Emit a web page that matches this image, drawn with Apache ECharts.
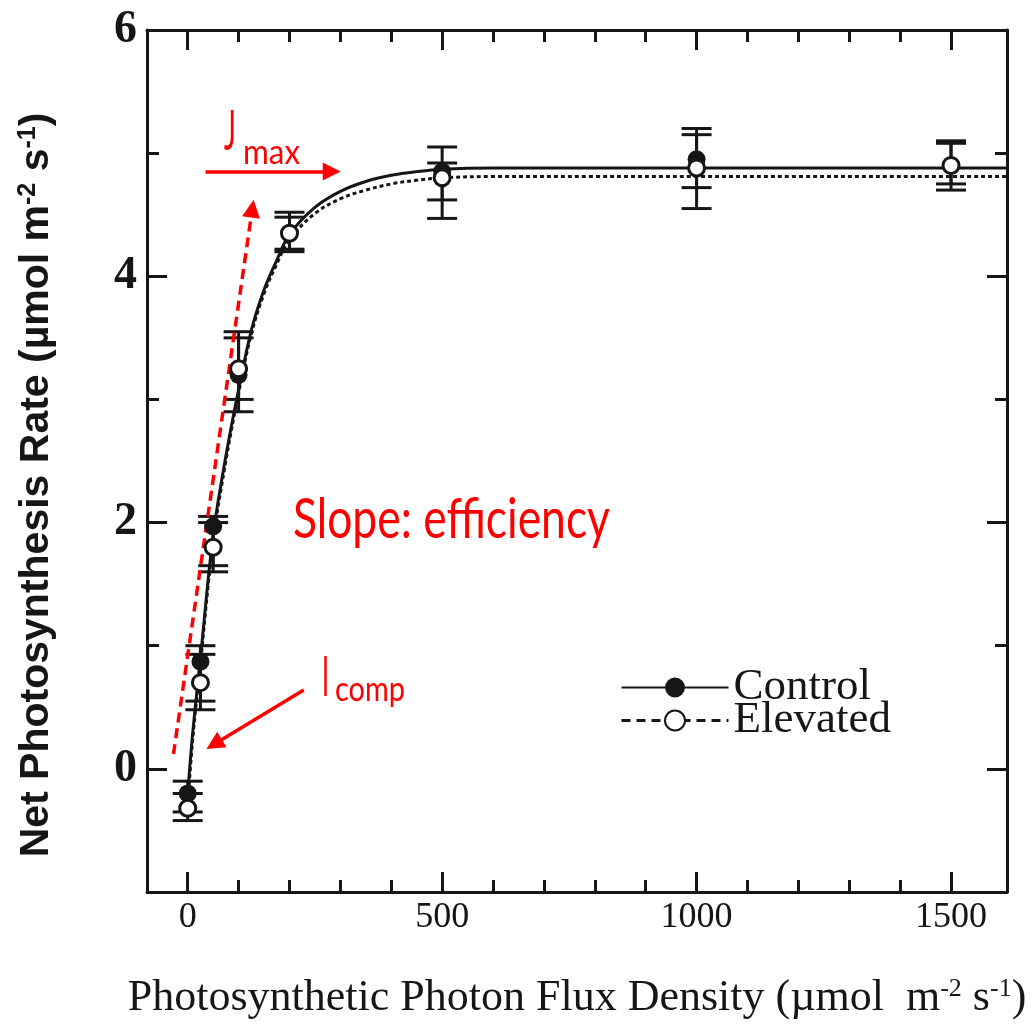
<!DOCTYPE html>
<html><head><meta charset="utf-8">
<script src="https://cdn.jsdelivr.net/npm/echarts@6/dist/echarts.min.js"></script>
<style>html,body{margin:0;padding:0;background:#fff}#c{width:1034px;height:1025px}</style>
</head><body><div id="c"></div>
<script>
// ---- data ----
const ppfd = [0, 25, 50, 100, 200, 500, 1000, 1500];
const controlMean = [-0.2, 0.87, 1.97, 3.2, 4.35, 4.85, 4.95, 4.9];
const controlLow  = [-0.35, 0.55, 1.65, 2.9, 4.2, 4.62, 4.72, 4.75];
const controlHigh = [-0.1, 1.0, 2.05, 3.55, 4.52, 5.05, 5.2, 5.08];
const elevatedMean = [-0.32, 0.7, 1.8, 3.25, 4.35, 4.8, 4.88, 4.9];
const elevatedLow  = [-0.42, 0.48, 1.6, 3.0, 4.22, 4.47, 4.55, 4.7];
const elevatedHigh = [-0.2, 0.93, 2.0, 3.5, 4.48, 4.92, 5.15, 5.1];
const curveX = [0, 10, 25, 50, 75, 100, 125, 150, 175, 200, 250, 300, 350, 400, 450, 500, 600, 800, 1000, 1200, 1400, 1610];
const controlCurve  = [-0.2, 0.3, 0.9, 1.9, 2.54, 3.08, 3.56, 3.89, 4.13, 4.34, 4.56, 4.69, 4.77, 4.82, 4.85, 4.87, 4.88, 4.88, 4.88, 4.88, 4.88, 4.88];
const elevatedCurve = [-0.3, 0.25, 0.85, 1.85, 2.5, 3.05, 3.53, 3.86, 4.1, 4.3, 4.51, 4.63, 4.7, 4.75, 4.78, 4.8, 4.81, 4.81, 4.81, 4.81, 4.81, 4.81];
const xTickLabels = [0, 500, 1000, 1500];
const xMinorTicks = [100, 200, 300, 400, 600, 700, 800, 900, 1100, 1200, 1300, 1400];
const yTickLabels = [0, 2, 4, 6];
const yMinorTicks = [1, 3, 5];
// annotation geometry (data coordinates)
const zeroLine = [[-80, -0.02], [1625, -0.02]];
const slopeArrow = [[-28, 0.12], [127, 4.55]];
const jmaxArrow = [[35, 4.85], [283, 4.85]];
const icompArrow = [[228, 0.64], [52, 0.2]];

const INK = '#161616';
const RED = '#ff0000';
const X_MIN = -80, X_MAX = 1610, Y_MIN = -1, Y_MAX = 6;

const chart = echarts.init(document.getElementById('c'), null, {renderer: 'canvas'});

function xAxisDef(pos, ticks, len, showLine, showLabel) {
  return {
    type: 'value', position: pos, min: X_MIN, max: X_MAX,
    axisLine: {show: showLine, onZero: false, lineStyle: {color: INK, width: 3}},
    axisTick: {show: true, inside: true, length: len, customValues: ticks, lineStyle: {color: INK, width: 3}},
    axisLabel: {show: showLabel, customValues: ticks, formatter: v => String(v), color: INK,
      fontFamily: 'Liberation Serif', fontSize: 36, margin: 8},
    splitLine: {show: false}
  };
}
function yAxisDef(pos, ticks, len, showLine, showLabel) {
  return {
    type: 'value', position: pos, min: Y_MIN, max: Y_MAX,
    axisLine: {show: showLine, onZero: false, lineStyle: {color: INK, width: 3}},
    axisTick: {show: true, inside: true, length: len, customValues: ticks, lineStyle: {color: INK, width: 3}},
    axisLabel: {show: showLabel, customValues: ticks, formatter: v => String(v), color: INK,
      fontFamily: 'Liberation Serif', fontWeight: 'bold', fontSize: 46, margin: 10},
    splitLine: {show: false}
  };
}

const xMain = xAxisDef('bottom', xTickLabels, 20, true, true);
xMain.name = 'Photosynthetic Photon Flux Density (\u00b5mol  m{s|-2} s{s|-1})';
xMain.nameLocation = 'middle';
xMain.nameGap = 84;
xMain.nameTextStyle = {color: INK, fontFamily: 'Liberation Serif', fontSize: 44,
  rich: {s: {fontFamily: 'Liberation Serif', fontSize: 26, verticalAlign: 'top', color: INK, padding: [0, 0, 16, 0]}}};

const yMain = yAxisDef('left', yTickLabels, 20, true, true);
yMain.name = 'Net Photosynthesis Rate (\u00b5mol m{s|-2} s{s|-1})';
yMain.nameLocation = 'middle';
yMain.nameRotate = 90;
yMain.nameGap = 90;
yMain.nameTextStyle = {color: INK, fontFamily: 'Liberation Sans', fontWeight: 'bold', fontSize: 41, padding: [0, 48, 0, 0],
  rich: {s: {fontFamily: 'Liberation Sans', fontWeight: 'bold', fontSize: 25, color: INK, padding: [0, 0, 16, 0]}}};

function errorBars(low, high) {
  return ppfd.map((x, i) => [x, low[i], high[i]]);
}
function renderErr(params, api) {
  const x = api.value(0), lo = api.value(1), hi = api.value(2);
  const p1 = api.coord([x, lo]), p2 = api.coord([x, hi]);
  const hw = 15;
  const style = {stroke: INK, lineWidth: 3};
  return {type: 'group', children: [
    {type: 'line', shape: {x1: p1[0], y1: p1[1], x2: p2[0], y2: p2[1]}, style},
    {type: 'line', shape: {x1: p1[0] - hw, y1: p1[1], x2: p1[0] + hw, y2: p1[1]}, style},
    {type: 'line', shape: {x1: p2[0] - hw, y1: p2[1], x2: p2[0] + hw, y2: p2[1]}, style}
  ]};
}

const option = {
  animation: false,
  backgroundColor: '#fff',
  grid: {left: 147, right: 27, top: 30, bottom: 133, containLabel: false},
  xAxis: [
    xMain,
    xAxisDef('bottom', xMinorTicks, 12, false, false),
    xAxisDef('top', xTickLabels, 20, true, false),
    xAxisDef('top', xMinorTicks, 12, false, false)
  ],
  yAxis: [
    yMain,
    yAxisDef('left', yMinorTicks, 12, false, false),
    yAxisDef('right', yTickLabels, 20, true, false),
    yAxisDef('right', yMinorTicks, 12, false, false)
  ],
  legend: {
    orient: 'vertical', left: 615, top: 660,
    itemWidth: 107, itemHeight: 25, itemGap: -12,
    textStyle: {color: INK, fontFamily: 'Liberation Serif', fontSize: 45, lineHeight: 30},
    data: [
      {name: 'Control'},
      {name: 'Elevated', lineStyle: {type: [9, 6], width: 3}}
    ]
  },
  series: [
    {
      name: 'Control', type: 'line', smooth: 0.35, symbol: 'circle', showSymbol: false, z: 3,
      itemStyle: {color: INK}, lineStyle: {color: INK, width: 3},
      data: curveX.map((x, i) => [x, controlCurve[i]])
    },
    {
      name: 'Elevated', type: 'line', smooth: 0.35, symbol: 'emptyCircle', showSymbol: false, z: 3,
      itemStyle: {color: INK}, lineStyle: {color: INK, width: 3, type: [4, 3]},
      data: curveX.map((x, i) => [x, elevatedCurve[i]])
    },
    {
      name: 'Control error', type: 'custom', renderItem: renderErr, z: 4, clip: false,
      encode: {x: 0, y: [1, 2]}, data: errorBars(controlLow, controlHigh)
    },
    {
      name: 'Elevated error', type: 'custom', renderItem: renderErr, z: 4, clip: false,
      encode: {x: 0, y: [1, 2]}, data: errorBars(elevatedLow, elevatedHigh)
    },
    {
      name: 'Control points', type: 'scatter', symbol: 'circle', symbolSize: 18, z: 5,
      itemStyle: {color: INK, opacity: 1},
      data: ppfd.map((x, i) => [x, controlMean[i]])
    },
    {
      name: 'Elevated points', type: 'scatter', symbol: 'circle', symbolSize: 16, z: 6,
      itemStyle: {color: '#fff', borderColor: INK, borderWidth: 3, opacity: 1},
      data: ppfd.map((x, i) => [x, elevatedMean[i]])
    },
    {
      name: 'annotations', type: 'line', data: [], clip: false, silent: true, z: 8,
      markLine: {
        silent: true, animation: false, symbol: ['none', 'triangle'], symbolSize: 18,
        label: {show: false},
        lineStyle: {color: RED, width: 3.5, type: 'solid'},
        emphasis: {disabled: true},
        data: [
          [{coord: zeroLine[0], symbol: 'none', lineStyle: {color: RED, width: 3, type: [12, 8]}},
           {coord: zeroLine[1], symbol: 'none'}],
          [{coord: slopeArrow[0], lineStyle: {color: RED, width: 3.5, type: [10, 6]}},
           {coord: slopeArrow[1]}],
          [{coord: jmaxArrow[0], lineStyle: {color: RED, width: 3.5, type: 'solid'}},
           {coord: jmaxArrow[1]}],
          [{coord: icompArrow[0], lineStyle: {color: RED, width: 3.5, type: 'solid'}},
           {coord: icompArrow[1]}]
        ]
      }
    }
  ]
};
chart.setOption(option);

// red text annotations (horizontally condensed like the reference)
const ctx = document.createElement('canvas').getContext('2d');
function fitScale(text, font, width) { ctx.font = font; return width / ctx.measureText(text).width; }
function redText(text, size, left, baseline, width) {
  const font = size + 'px Lato';
  return {type: 'text', x: left, y: baseline, scaleX: fitScale(text, font, width), z: 100,
    style: {text: text, font: font, fill: RED, verticalAlign: 'bottom'}};
}
chart.setOption({graphic: [
  redText('Slope: efficiency', 56, 293, 548, 317),
  redText('J', 56, 224, 160, 12),
  redText('max', 34, 243, 170, 57),
  redText('I', 56, 322, 706, 7),
  redText('comp', 34, 335, 707, 70)
]});
</script>
</body></html>
